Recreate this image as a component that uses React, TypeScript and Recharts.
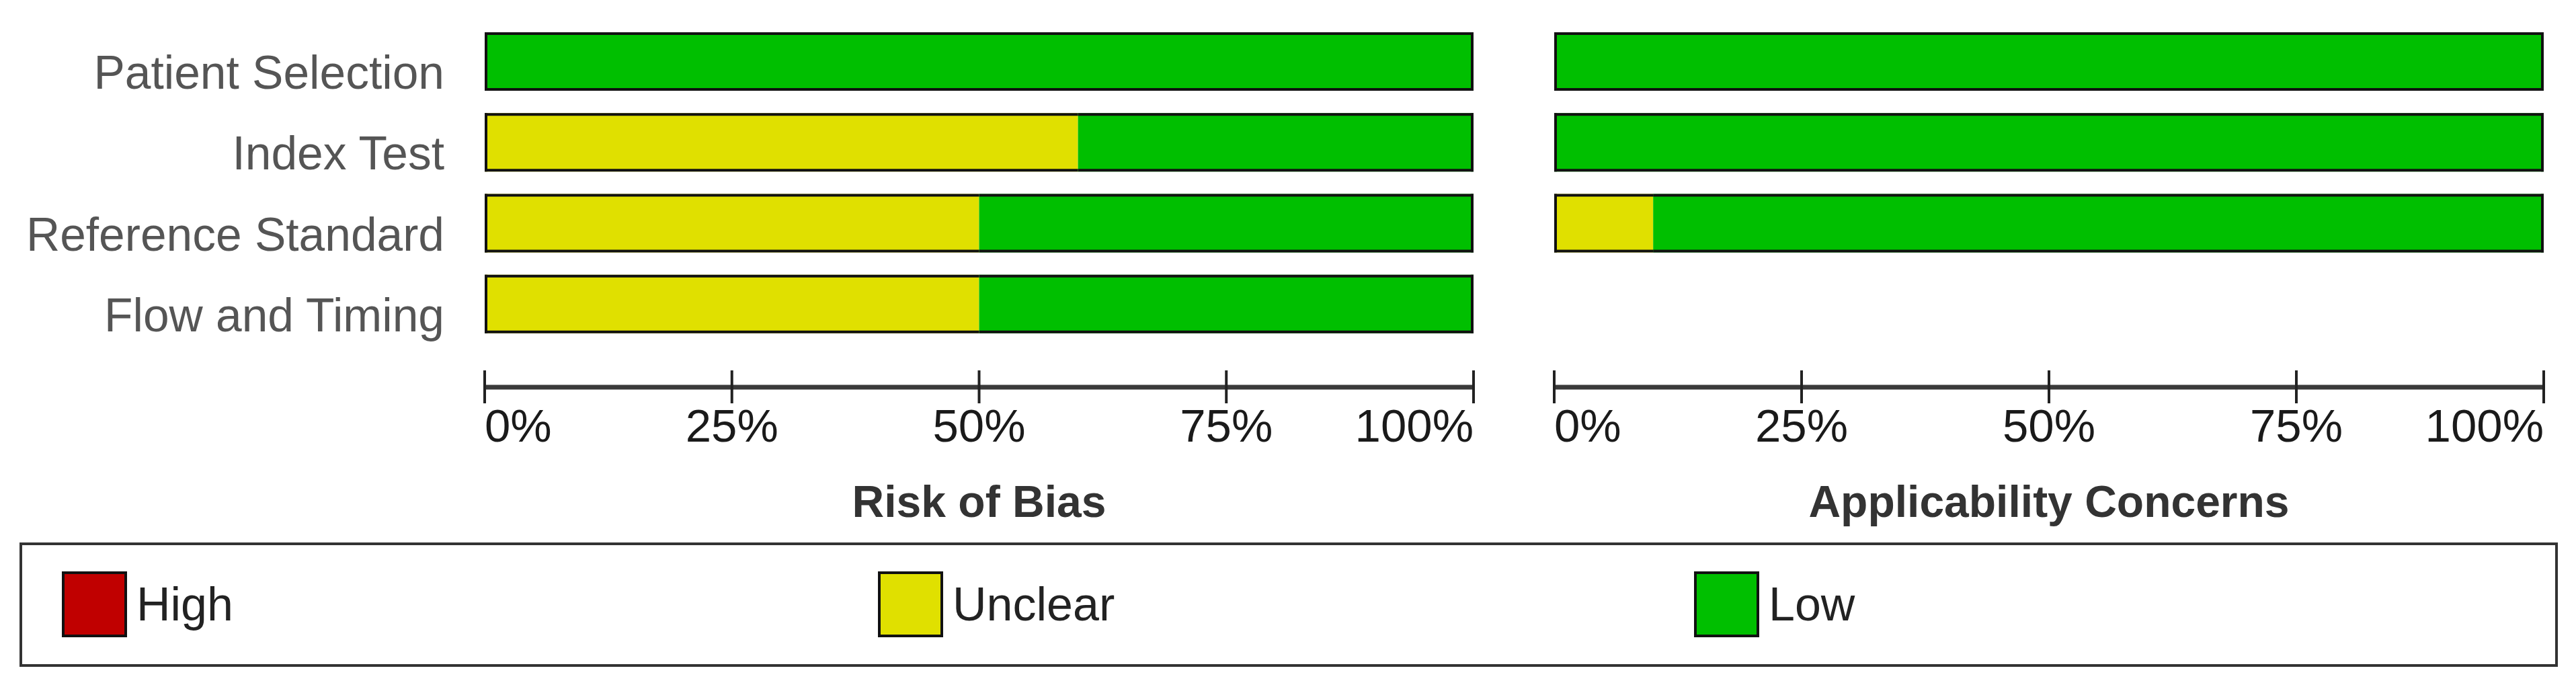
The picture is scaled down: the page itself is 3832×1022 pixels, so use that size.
import { Bar, BarChart, Label, XAxis, YAxis } from "recharts";

// QUADAS-2 style summary: % of studies per judgement
const domains = ["Patient Selection", "Index Test", "Reference Standard", "Flow and Timing"];

const biasHigh = [0, 0, 0, 0];
const biasUnclear = [0, 60, 50, 50];
const biasLow = [100, 40, 50, 50];

const applHigh = [0, 0, 0, null];
const applUnclear = [0, 0, 10, null];
const applLow = [100, 100, 90, null];

const pctTicks = [0, 25, 50, 75, 100];

const levels = [
  { key: "high", name: "High", color: "#C00000" },
  { key: "unclear", name: "Unclear", color: "#E0E000" },
  { key: "low", name: "Low", color: "#00BF00" },
];

const FONT = "'Liberation Sans', Arial, sans-serif";

function buildRows(high: (number | null)[], unclear: (number | null)[], low: (number | null)[]) {
  return domains.map((d, i) => ({ domain: d, high: high[i], unclear: unclear[i], low: low[i] }));
}

const biasRows = buildRows(biasHigh, biasUnclear, biasLow);
const applRows = buildRows(applHigh, applUnclear, applLow);

// segment with an outline only on the outer edges of the whole bar
function segmentShape(idx: number) {
  return (props: any) => {
    const { x, y, width, height, fill, payload } = props;
    if (!(width > 0)) return <g />;
    const before = levels.slice(0, idx).reduce((s, l) => s + (payload[l.key] || 0), 0);
    const after = levels.slice(idx + 1).reduce((s, l) => s + (payload[l.key] || 0), 0);
    const sw = 4;
    const stroke = "#111";
    return (
      <g>
        <rect x={x} y={y} width={width} height={height} fill={fill} />
        <line x1={x} x2={x + width} y1={y + sw / 2} y2={y + sw / 2} stroke={stroke} strokeWidth={sw} />
        <line x1={x} x2={x + width} y1={y + height - sw / 2} y2={y + height - sw / 2} stroke={stroke} strokeWidth={sw} />
        {before === 0 && <line x1={x + sw / 2} x2={x + sw / 2} y1={y} y2={y + height} stroke={stroke} strokeWidth={sw} />}
        {after === 0 && <line x1={x + width - sw / 2} x2={x + width - sw / 2} y1={y} y2={y + height} stroke={stroke} strokeWidth={sw} />}
      </g>
    );
  };
}

const PctTick = (props: any) => {
  const { x, y, payload, index } = props;
  const anchor = index === 0 ? "start" : index === pctTicks.length - 1 ? "end" : "middle";
  return (
    <g>
      <line x1={x} x2={x} y1={y - 25} y2={y + 24} stroke="#222" strokeWidth={4} />
      <text x={x} y={y + 81} textAnchor={anchor} fontFamily={FONT} fontSize={69} fill="#1a1a1a">
        {`${payload.value}%`}
      </text>
    </g>
  );
};

const DomainTick = (props: any) => {
  const { x, y, payload } = props;
  return (
    <text x={x} y={y + 41} textAnchor="end" fontFamily={FONT} fontSize={69.5} fill="#555">
      {payload.value}
    </text>
  );
};

function Panel({ rows, title, width, marginLeft, showLabels }: any) {
  return (
    <BarChart
      width={width}
      height={800}
      data={rows}
      layout="vertical"
      margin={{ top: 31, right: 48, left: showLabels ? 0 : marginLeft, bottom: 0 }}
    >
      <XAxis
        type="number"
        domain={[0, 100]}
        ticks={pctTicks}
        interval={0}
        height={224}
        tickSize={0}
        tickMargin={0}
        tickLine={false}
        axisLine={{ stroke: "#3a3a3a", strokeWidth: 7 }}
        tick={<PctTick />}
      >
        <Label
          content={({ viewBox }: any) => (
            <text
              x={viewBox.x + viewBox.width / 2}
              y={viewBox.y + 193}
              textAnchor="middle"
              fontFamily={FONT}
              fontWeight="bold"
              fontSize={66}
              fill="#333"
            >
              {title}
            </text>
          )}
        />
      </XAxis>
      <YAxis
        type="category"
        dataKey="domain"
        width={showLabels ? 721 : 0}
        hide={!showLabels}
        padding={{ top: 0, bottom: 64 }}
        tickSize={0}
        tickMargin={60}
        axisLine={false}
        tickLine={false}
        interval={0}
        tick={<DomainTick />}
      />
      {levels.map((l, i) => (
        <Bar
          key={l.key}
          dataKey={l.key}
          name={l.name}
          stackId="s"
          fill={l.color}
          barSize={87}
          shape={segmentShape(i)}
          isAnimationActive={false}
        />
      ))}
    </BarChart>
  );
}

export default function App() {
  return (
    <div style={{ position: "absolute", left: 0, top: 0, width: 3832, height: 1022, background: "#fff", overflow: "hidden" }}>
      <div style={{ position: "absolute", left: 0, top: 0 }}>
        <Panel rows={biasRows} title="Risk of Bias" width={2240} showLabels />
      </div>
      <div style={{ position: "absolute", left: 2240, top: 0 }}>
        <Panel rows={applRows} title="Applicability Concerns" width={1592} marginLeft={72} showLabels={false} />
      </div>
      <div
        style={{
          position: "absolute",
          left: 29,
          top: 807,
          width: 3776,
          height: 185,
          border: "4px solid #333",
          boxSizing: "border-box",
        }}
      >
        {levels.map((l, i) => (
          <div key={l.key} style={{ position: "absolute", left: 59 + i * 1214, top: 39, height: 98, display: "flex", alignItems: "center" }}>
            <div style={{ width: 97, height: 98, background: l.color, border: "4px solid #111", boxSizing: "border-box" }} />
            <span style={{ marginLeft: 14, fontFamily: FONT, fontSize: 70, color: "#222", lineHeight: 1 }}>{l.name}</span>
          </div>
        ))}
      </div>
    </div>
  );
}
